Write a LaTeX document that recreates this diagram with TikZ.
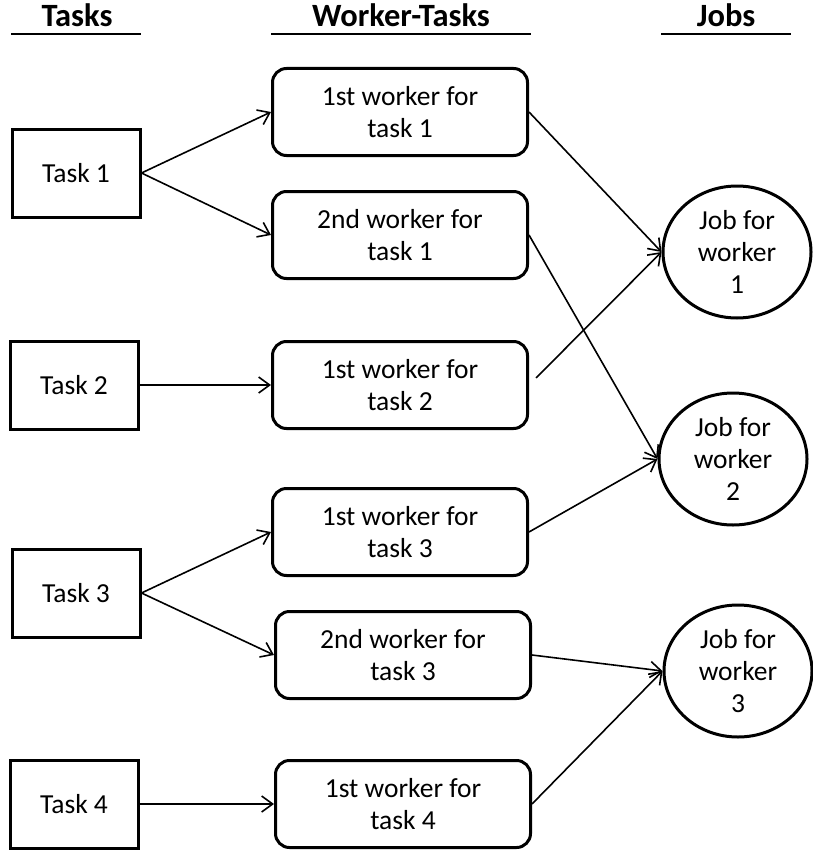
\documentclass[tikz,border=0pt]{standalone}
\usepackage{fontspec}
\setmainfont{Carlito}
\usetikzlibrary{arrows.meta,shapes.geometric}

\begin{document}
\begin{tikzpicture}[x=1pt, y=1pt, yscale=-1,
    taskbox/.style={draw, line width=3pt, minimum width=128pt, minimum height=88pt, font=\fontsize{27.5}{32}\selectfont},
    workerbox/.style={draw, line width=3pt, rounded corners=14pt, minimum width=255pt, minimum height=87pt, align=center, font=\fontsize{27.5}{32}\selectfont},
    jobnode/.style={draw, ellipse, line width=3pt, minimum width=148pt, minimum height=132pt, inner sep=0pt, align=center, font=\fontsize{27.5}{32}\selectfont},
    header/.style={anchor=base, font=\bfseries\fontsize{32.5}{36}\selectfont},
    headrule/.style={line width=2pt},
    link/.style={line width=1.6pt, -{Straight Barb[length=11pt, width=16pt, line width=1.6pt]}}]
    \useasboundingbox (0,0) rectangle (812,851) ;

    % column headers
    \node [header] (htasks) at (77,27) {Tasks} ;
    \node [header] (hworkers) at (401,27) {Worker-Tasks} ;
    \node [header] (hjobs) at (726,27) {Jobs} ;
    \draw [headrule] (11,34) -- (141,34) ;
    \draw [headrule] (271,34) -- (531,34) ;
    \draw [headrule] (661,34) -- (791,34) ;

    % tasks
    \node [taskbox] (t1) at (76,173) {Task 1} ;
    \node [taskbox] (t2) at (74,385) {Task 2} ;
    \node [taskbox] (t3) at (76,593) {Task 3} ;
    \node [taskbox] (t4) at (74,804) {Task 4} ;

    % worker-tasks
    \node [workerbox] (wt11) at (400,112) {1st worker for\\task 1} ;
    \node [workerbox] (wt12) at (400,235) {2nd worker for\\task 1} ;
    \node [workerbox] (wt21) at (400,385) {1st worker for\\task 2} ;
    \node [workerbox] (wt31) at (400,532) {1st worker for\\task 3} ;
    \node [workerbox] (wt32) at (403,655) {2nd worker for\\task 3} ;
    \node [workerbox] (wt41) at (403,804) {1st worker for\\task 4} ;

    % jobs
    \node [jobnode] (job1) at (737,252) {Job for\\worker\\1} ;
    \node [jobnode] (job2) at (733,459) {Job for\\worker\\2} ;
    \node [jobnode] (job3) at (738,671) {Job for\\worker\\3} ;

    \draw [link] (t1.east) -- (wt11.west) ;
    \draw [link] (t1.east) -- (wt12.west) ;
    \draw [link] (t2.east) -- (wt21.west) ;
    \draw [link] (t3.east) -- (wt31.west) ;
    \draw [link] (t3.east) -- (wt32.west) ;
    \draw [link] (t4.east) -- (wt41.west) ;

    \draw [link] (wt11.east) -- (job1.west) ;
    \draw [link, shorten <=10pt] (wt21.east) -- (job1.west) ;
    \draw [link] (wt12.east) -- (job2.west) ;
    \draw [link] (wt31.east) -- (job2.west) ;
    \draw [link] (wt32.east) -- (job3.west) ;
    \draw [link] (wt41.east) -- (job3.west) ;
\end{tikzpicture}
\end{document}
